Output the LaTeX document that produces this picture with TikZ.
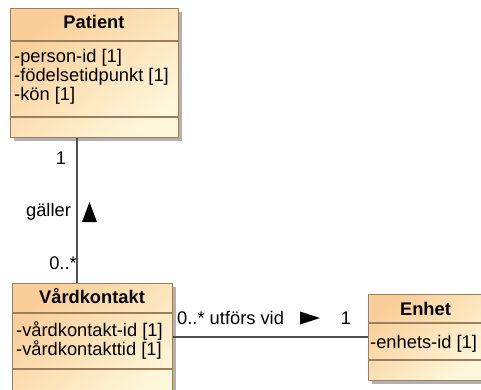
\documentclass[tikz,border=0pt]{standalone}
\usepackage{fontspec}
\setmainfont{Liberation Sans}
\usetikzlibrary{shadows}
\definecolor{boxline}{HTML}{9A7E5E}
\definecolor{fillA}{HTML}{F9CE98}
\definecolor{fillB}{HTML}{FFF7DA}
\definecolor{conn}{HTML}{505050}
\tikzset{
  x=1pt, y=-1pt,
  umlbox/.style={rectangle, draw=boxline, line width=1.1pt, inner sep=0pt, anchor=north west,
    top color=fillA, bottom color=fillB, shading angle=40,
    drop shadow={shadow xshift=3.5pt, shadow yshift=-3.5pt, fill=black!30, opacity=1}},
  sep/.style={draw=boxline, line width=1.1pt},
  title/.style={font=\fontsize{18.3}{20}\selectfont\bfseries, anchor=base, inner sep=0pt},
  attr/.style={font=\fontsize{18.3}{19}\selectfont, anchor=base west, inner sep=0pt},
  lbl/.style={font=\fontsize{18.3}{19}\selectfont, inner sep=0pt},
  assoc/.style={draw=conn, line width=1.2pt},
  tri/.style={fill=black, draw=none}
}
\begin{document}
\begin{tikzpicture}
\useasboundingbox (0,0) rectangle (481,389);
\clip (0,0) rectangle (481,389);
% Patient
\node[umlbox, minimum width=168pt, minimum height=129pt] (patient) at (10,8) {};
\draw[sep] (10,41) -- (178,41);
\draw[sep] (10,117) -- (178,117);
\node[title] (patientT) at (94,28.5) {Patient};
\node[attr] (pa1) at (14,62) {-person-id [1]};
\node[attr] (pa2) at (14,81) {-födelsetidpunkt [1]};
\node[attr] (pa3) at (14,100) {-kön [1]};
% Vårdkontakt
\node[umlbox, minimum width=160pt, minimum height=120pt] (vard) at (12,283) {};
\draw[sep] (12,313) -- (172,313);
\draw[sep] (12,369) -- (172,369);
\node[title] (vardT) at (92,303.5) {Vårdkontakt};
\node[attr] (va1) at (16,336) {-vårdkontakt-id [1]};
\node[attr] (va2) at (16,355) {-vårdkontakttid [1]};
% Enhet
\node[umlbox, minimum width=115pt, minimum height=86pt] (enhet) at (368,294) {};
\draw[sep] (368,323) -- (483,323);
\draw[sep] (368,360) -- (483,360);
\node[title] (enhetT) at (425.5,315) {Enhet};
\node[attr] (ea1) at (370,348) {-enhets-id [1]};
% connectors
\coordinate (vx) at (77,0);
\coordinate (hy) at (0,337);
\draw[assoc] (vx |- patient.south) -- (vx |- vard.north);
\draw[assoc] (vard.east |- hy) -- (enhet.west |- hy);
% labels
\node[lbl] (m1) at (61,158) {1};
\node[lbl] (gal) at (48.5,212) {gäller};
\node[lbl] (m2) at (63,263) {0..*};
\fill[tri] (89.5,202) -- (97,222) -- (82,222) -- cycle;
\node[lbl, anchor=west] (utf) at (177,318) {0..* utförs vid};
\fill[tri] (320,318) -- (300,311.5) -- (300,324.5) -- cycle;
\node[lbl] (m3) at (346,318) {1};
\end{tikzpicture}
\end{document}
